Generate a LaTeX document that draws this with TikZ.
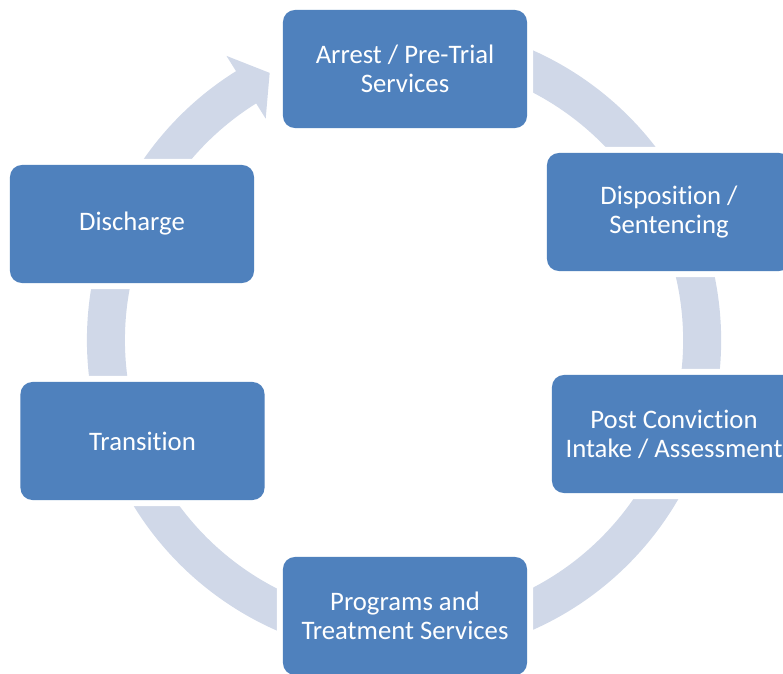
\documentclass[tikz,border=0pt]{standalone}
\usepackage{fontspec}
\setmainfont{Carlito}[Ligatures = {NoCommon, NoRequired, NoContextual}, Contextuals = NoAlternate]
\usepackage{tikz}
\usetikzlibrary{calc}

\definecolor{boxblue}{RGB}{79,129,189}
\definecolor{ringblue}{RGB}{208,216,232}
\tikzset{
    stage/.style = {rectangle, rounded corners = 0.3cm, fill = boxblue, text = white,
        minimum width = 6.1cm, minimum height = 2.95cm, inner sep = 0pt, align = center,
        font = \fontsize{19}{20.6}\selectfont,
        preaction = {draw = white, line width = 0.3cm}},
    ring/.style = {draw = ringblue, line width = 0.95cm}
}

\begin{document}
\begin{tikzpicture}[x = 0.025cm, y = 0.025cm]
    %% frame
    \useasboundingbox (0, 0) rectangle (783, 673);
    \clip (0, 0) rectangle (783, 673);
    \coordinate (c) at (404, 333);

    %% ring
    \draw[ring] ($(c) + (100:298)$) arc[start angle = 100, end angle = -238.5, radius = 7.45cm];
    \fill[ringblue] ($(c) + (122:335)$) -- ($(c) + (116.7:299)$) -- ($(c) + (122:261)$) -- cycle;

    %% stages
    \node[stage] (arrest) at (405, 604) {Arrest / Pre-Trial\\Services};
    \node[stage] (dispo) at (669, 461) {Disposition /\\Sentencing};
    \node[stage] (postconv) at (674, 239) {Post Conviction\\Intake / Assessment};
    \node[stage] (programs) at (405, 57) {Programs and\\Treatment Services};
    \node[stage] (transition) at (142.5, 232) {Transition};
    \node[stage] (discharge) at (132, 449) {Discharge};
\end{tikzpicture}
\end{document}
